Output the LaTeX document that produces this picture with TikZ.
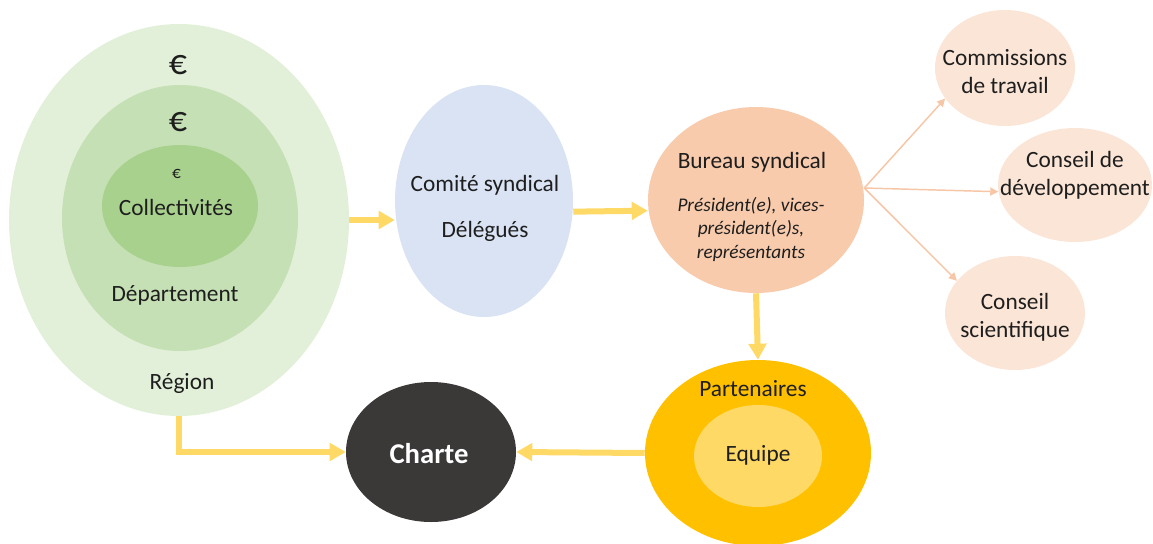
\documentclass[tikz,border=0pt]{standalone}
\usepackage{fontspec}
\setmainfont{Carlito}
\usetikzlibrary{arrows.meta,positioning,shapes.geometric}
\definecolor{syregion}{RGB}{226,240,217}
\definecolor{sydept}{RGB}{197,224,180}
\definecolor{sycoll}{RGB}{169,209,142}
\definecolor{sycomite}{RGB}{218,227,243}
\definecolor{sybureau}{RGB}{248,203,173}
\definecolor{syorgan}{RGB}{251,229,214}
\definecolor{sypartner}{RGB}{255,192,0}
\definecolor{syteam}{RGB}{255,217,102}
\definecolor{sycharter}{RGB}{59,56,56}
\definecolor{syflow}{RGB}{255,217,102}
\definecolor{sybranch}{RGB}{247,198,166}
\definecolor{sytext}{RGB}{30,30,30}

\begin{document}
\begin{tikzpicture}[x=0.75pt, y=-0.75pt,
        blob/.style={ellipse, inner sep=0pt},
        txt/.style={anchor=base, align=center, text=sytext, font=\fontsize{17.5}{21}\selectfont},
        flow/.style={-{Triangle[length=12pt,width=13pt]}, line width=4.5pt, draw=syflow},
        branch/.style={-{Triangle[length=6pt,width=6pt]}, line width=1.1pt, draw=sybranch}
      ]
      \useasboundingbox (0,0) rectangle (1153,543);
      \node[blob, fill=syregion, minimum width=255pt, minimum height=294pt] (region) at (179,220) {};
      \node[blob, fill=sydept, minimum width=177pt, minimum height=199.5pt] (dept) at (180,218) {};
      \node[blob, fill=sycoll, minimum width=117pt, minimum height=91.5pt] (coll) at (180,206) {};
      \node[blob, fill=sycomite, minimum width=133.5pt, minimum height=174pt] (comite) at (484,201) {};
      \node[blob, fill=sybureau, minimum width=162pt, minimum height=139.5pt] (bureau) at (756,200) {};
      \node[blob, fill=sypartner, minimum width=169.5pt, minimum height=139.5pt] (partner) at (758,453) {};
      \node[blob, fill=syteam, minimum width=96pt, minimum height=76.5pt] (team) at (758,456) {};
      \node[blob, fill=sycharter, minimum width=127.5pt, minimum height=105pt] (charter) at (431,452) {};
      \node[blob, fill=syorgan, minimum width=105pt, minimum height=87pt] (commissions) at (1005,68) {};
      \node[blob, fill=syorgan, minimum width=115.5pt, minimum height=85.5pt] (devel) at (1075,185) {};
      \node[blob, fill=syorgan, minimum width=105pt, minimum height=85.5pt] (science) at (1015,313) {};

      \node[txt, font=\fontsize{27}{30}\selectfont] (euroregion) at (178,74) {€};
      \node[txt, font=\fontsize{27}{30}\selectfont] (eurodept) at (178,131) {€};
      \node[txt, font=\fontsize{13}{15}\selectfont] (eurocoll) at (176.5,178) {€};
      \node[txt] (colllabel) at (176,215) {Collectivités};
      \node[txt] (deptlabel) at (175,301) {Département};
      \node[txt] (regionlabel) at (182,389) {Région};
      \node[txt] (comitelabel) at (485,237) {Comité syndical\\[13.5pt]Délégués};
      \node[txt] (bureaulabel) at (752,168) {Bureau syndical};
      \node[txt, font=\fontsize{14.5}{17.6}\selectfont\itshape] (bureaumembers) at (751,258) {Président(e), vices-\\président(e)s,\\représentants};
      \node[txt] (partnerlabel) at (753,396) {Partenaires};
      \node[txt] (teamlabel) at (758,461) {Equipe};
      \node[txt, text=white, font=\fontsize{21.5}{25}\selectfont\bfseries] (charterlabel) at (429,463) {Charte};
      \node[txt] (commissionslabel) at (1005,93) {Commissions\\de travail};
      \node[txt] (devellabel) at (1075,195) {Conseil de\\développement};
      \node[txt] (sciencelabel) at (1015,337) {Conseil\\scientifique};

      \draw[flow] (region.east) -- (comite.west |- region.east);
      \draw[flow] ([yshift=-8pt]comite.east) -- ([yshift=-8pt]bureau.west);
      \draw[flow] (bureau.south) -- (partner.north);
      \draw[flow] (partner.west) -- (charter.east);
      \draw[flow] (region.south) |- (charter.west);
      \draw[branch] ([yshift=9pt]bureau.east) -- (commissions.207);
      \draw[branch] ([yshift=9pt]bureau.east) -- (devel.185);
      \draw[branch] ([yshift=9pt]bureau.east) -- (science.151);
    \end{tikzpicture}
\end{document}
